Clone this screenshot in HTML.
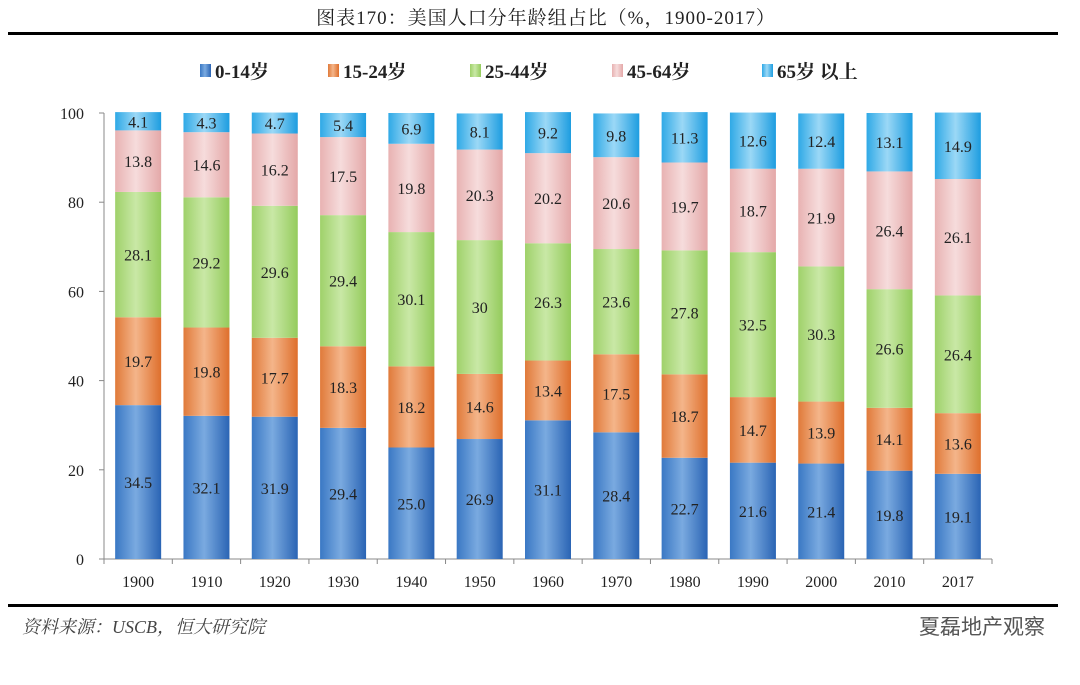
<!DOCTYPE html>
<html><head><meta charset="utf-8"><style>
body{margin:0;background:#fff;width:1080px;height:680px;overflow:hidden;font-family:"Liberation Serif","Noto Serif CJK SC",serif;}
</style></head><body>
<svg width="1080" height="680" xmlns="http://www.w3.org/2000/svg">
<defs>
<linearGradient id="g0" x1="0" x2="1"><stop offset="0" stop-color="#3a78c4"/><stop offset="0.45" stop-color="#7aaae0"/><stop offset="1" stop-color="#2a64b4"/></linearGradient>
<linearGradient id="g1" x1="0" x2="1"><stop offset="0" stop-color="#e07a3a"/><stop offset="0.45" stop-color="#f4b58a"/><stop offset="1" stop-color="#de6f2c"/></linearGradient>
<linearGradient id="g2" x1="0" x2="1"><stop offset="0" stop-color="#9fd16a"/><stop offset="0.45" stop-color="#c9e8a6"/><stop offset="1" stop-color="#94cb5c"/></linearGradient>
<linearGradient id="g3" x1="0" x2="1"><stop offset="0" stop-color="#e8b2b2"/><stop offset="0.45" stop-color="#f6dcdc"/><stop offset="1" stop-color="#e4a8a8"/></linearGradient>
<linearGradient id="g4" x1="0" x2="1"><stop offset="0" stop-color="#2fa9e6"/><stop offset="0.45" stop-color="#9bd8f6"/><stop offset="1" stop-color="#1d9de0"/></linearGradient>
</defs>
<text x="546" y="24" text-anchor="middle" font-size="19" letter-spacing="1" fill="#222">图表170：美国人口分年龄组占比（%，1900-2017）</text>
<rect x="8" y="32" width="1050" height="3" fill="#000"/>
<rect x="8" y="604" width="1050" height="3" fill="#000"/>
<text x="22" y="633" font-size="18" font-style="italic" fill="#444">资料来源：USCB，恒大研究院</text>
<text x="1045" y="634" text-anchor="end" font-size="21" fill="#555" font-family="Liberation Sans,Noto Sans CJK SC,sans-serif">夏磊地产观察</text>
<g id="legend"></g>
<g id="axes"></g>
<g id="bars"></g>
</svg>
<script>
const categories=["1900","1910","1920","1930","1940","1950","1960","1970","1980","1990","2000","2010","2017"];
const seriesNames=["0-14岁","15-24岁","25-44岁","45-64岁","65岁 以上"];
const s0=[34.5,32.1,31.9,29.4,25.0,26.9,31.1,28.4,22.7,21.6,21.4,19.8,19.1];
const s1=[19.7,19.8,17.7,18.3,18.2,14.6,13.4,17.5,18.7,14.7,13.9,14.1,13.6];
const s2=[28.1,29.2,29.6,29.4,30.1,30,26.3,23.6,27.8,32.5,30.3,26.6,26.4];
const s3=[13.8,14.6,16.2,17.5,19.8,20.3,20.2,20.6,19.7,18.7,21.9,26.4,26.1];
const s4=[4.1,4.3,4.7,5.4,6.9,8.1,9.2,9.8,11.3,12.6,12.4,13.1,14.9];
const yTicks=[0,20,40,60,80,100];
const series=[s0,s1,s2,s3,s4];
const NS="http://www.w3.org/2000/svg";
const x0=104,x1=992,yb=559,yt=113;
const bw=(x1-x0)/categories.length;
const y=v=>yb-(v/100)*(yb-yt);
const xc=i=>x0+bw*(i+0.5);
function mk(t,a,p){const e=document.createElementNS(NS,t);for(const k in a)e.setAttribute(k,a[k]);p.appendChild(e);return e;}
const axes=document.getElementById('axes'),bars=document.getElementById('bars'),leg=document.getElementById('legend');
let l=mk('line',{x1:x0,y1:yt,x2:x0,y2:yb,stroke:'#888'},axes);


l=mk('line',{x1:x0,y1:yb,x2:x1,y2:yb,stroke:'#888'},axes);


yTicks.forEach(v=>{
 mk('line',{x1:x0-5,y1:y(v),x2:x0,y2:y(v),stroke:'#888'},axes);
 const t=mk('text',{x:x0-20,y:y(v)+6,'text-anchor':'end','font-size':16,fill:'#222'},axes);
 t.textContent=v;
 
 
});
for(let i=0;i<=categories.length;i++)mk('line',{x1:x0+bw*i,y1:yb,x2:x0+bw*i,y2:yb+5,stroke:'#888'},axes);
categories.forEach((c,i)=>{
 const t=mk('text',{x:xc(i),y:yb+28,'text-anchor':'middle','font-size':16,fill:'#222'},axes);
 t.textContent=c;
 
 
 let cum=0;
 series.forEach((s,k)=>{
  const v=s[i];
  const r=mk('rect',{x:xc(i)-23,y:y(cum+v),width:46,height:y(cum)-y(cum+v),fill:'url(#g'+k+')'},bars);
  
  
  const lt=mk('text',{x:xc(i),y:(y(cum)+y(cum+v))/2+6,'text-anchor':'middle','font-size':16,fill:'#222'},bars);
  lt.textContent=(k===0?v.toFixed(1):String(v));
  
  
  cum+=v;
 });
});
const lx=[200,328,470,612,762];
seriesNames.forEach((n,k)=>{
 const r=mk('rect',{x:lx[k],y:64,width:11,height:13,fill:'url(#g'+k+')'},leg);
 
 
 const t=mk('text',{x:lx[k]+15,y:78,'font-size':19,'font-weight':'bold',fill:'#222'},leg);
 t.textContent=n;
 
 
});
</script>
</body></html>
